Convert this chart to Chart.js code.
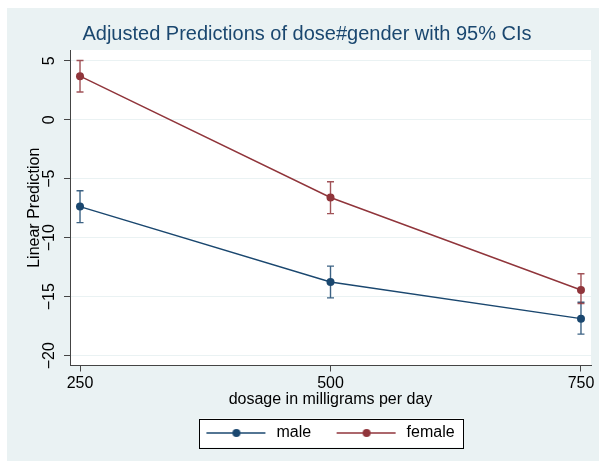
<!DOCTYPE html>
<html>
<head>
<meta charset="utf-8">
<script src="https://cdn.jsdelivr.net/npm/chart.js@4"></script>
<style>
  html, body { margin: 0; padding: 0; background: #fff; }
  #wrap { position: absolute; left: 7px; top: 8px; width: 592px; height: 453px; background: #eaf2f3; }
</style>
</head>
<body>
<div id="wrap"><canvas id="chart" width="592" height="453"></canvas></div>
<script>
// dose levels and the predictions
const doses = [250, 500, 750];
const maleFit = [-7.36, -13.75, -16.86];
const maleLo = [-8.72, -15.1, -18.17];
const maleHi = [-6.02, -12.41, -15.47];
const femaleFit = [3.69, -6.59, -14.43];
const femaleLo = [2.35, -7.96, -15.58];
const femaleHi = [5.02, -5.26, -13.06];
const yTicks = [-20, -15, -10, -5, 0, 5];
const xTicks = [250, 500, 750];

const navy = '#1a476f';
const maroon = '#90353b';

Chart.defaults.font.family = '"Liberation Sans", Arial, Helvetica, sans-serif';
Chart.defaults.color = '#000';

function toPoints(ys) {
  return doses.map((d, i) => ({x: d, y: ys[i]}));
}

// little line+dot picture for the legend keys
function legendSymbol(color) {
  const c = document.createElement('canvas');
  c.width = 76; c.height = 12;
  const g = c.getContext('2d');
  g.strokeStyle = color;
  g.lineWidth = 1.4;
  g.beginPath(); g.moveTo(14, 6); g.lineTo(73, 6); g.stroke();
  g.fillStyle = color;
  g.beginPath(); g.arc(44, 6, 4, 0, Math.PI * 2); g.fill();
  return c;
}
const symbols = [legendSymbol(navy), legendSymbol(maroon)];

// white plot region + framed legend
const backdrop = {
  id: 'backdrop',
  afterLayout(chart) {
    chart.legend.left -= 7;
    chart.legend.right -= 7;
  },
  beforeDraw(chart) {
    const {ctx, chartArea: a} = chart;
    ctx.save();
    ctx.fillStyle = '#fff';
    ctx.fillRect(a.left, a.top, a.right - a.left, a.bottom - a.top);
    const boxes = chart.legend.legendHitBoxes;
    if (boxes && boxes.length) {
      const first = boxes[0], last = boxes[boxes.length - 1];
      const l = first.left + 14 - 7, r = last.left + last.width + 9;
      const t = first.top - 6.5, b = first.top + 16 + 6.5;
      ctx.fillRect(l, t, r - l, b - t);
      ctx.strokeStyle = '#000';
      ctx.lineWidth = 1;
      ctx.strokeRect(Math.round(l) + 0.5, Math.round(t) + 0.5, Math.round(r - l), Math.round(b - t));
    }
    ctx.restore();
  }
};

// 95% CI caps
const ciBars = {
  id: 'ciBars',
  beforeDatasetsDraw(chart) {
    const {ctx, scales: {x, y}} = chart;
    const sets = [
      [maleLo, maleHi, 'rgba(26,71,111,0.85)'],
      [femaleLo, femaleHi, 'rgba(144,53,59,0.85)']
    ];
    ctx.save();
    ctx.lineWidth = 1.4;
    sets.forEach(([lo, hi, color]) => {
      ctx.strokeStyle = color;
      doses.forEach((d, i) => {
        const px = x.getPixelForValue(d);
        const top = y.getPixelForValue(hi[i]);
        const bot = y.getPixelForValue(lo[i]);
        ctx.beginPath();
        ctx.moveTo(px, top); ctx.lineTo(px, bot);
        ctx.moveTo(px - 3.5, top); ctx.lineTo(px + 3.5, top);
        ctx.moveTo(px - 3.5, bot); ctx.lineTo(px + 3.5, bot);
        ctx.stroke();
      });
    });
    ctx.restore();
  }
};

new Chart(document.getElementById('chart'), {
  type: 'line',
  data: {
    datasets: [
      {
        label: 'male',
        data: toPoints(maleFit),
        borderColor: navy,
        backgroundColor: navy,
        borderWidth: 1.4,
        pointRadius: 4,
        pointBorderWidth: 0,
        tension: 0
      },
      {
        label: 'female',
        data: toPoints(femaleFit),
        borderColor: maroon,
        backgroundColor: maroon,
        borderWidth: 1.4,
        pointRadius: 4,
        pointBorderWidth: 0,
        tension: 0
      }
    ]
  },
  options: {
    responsive: false,
    animation: false,
    layout: { padding: { left: 16, right: 8, top: 0, bottom: 10 } },
    plugins: {
      title: {
        display: true,
        text: 'Adjusted Predictions of dose#gender with 95% CIs',
        color: navy,
        font: { size: 20, weight: 'normal' },
        padding: { top: 14.7, bottom: 3.3 }
      },
      legend: {
        position: 'bottom',
        fullSize: false,
        labels: {
          usePointStyle: true,
          pointStyleWidth: 76,
          padding: 11.5,
          font: { size: 16 },
          generateLabels: chart => Chart.defaults.plugins.legend.labels.generateLabels(chart)
            .map((item, i) => Object.assign(item, { pointStyle: symbols[i] }))
        }
      },
      tooltip: { enabled: false }
    },
    scales: {
      x: {
        type: 'linear',
        min: 240,
        max: 760,
        afterBuildTicks: s => { s.ticks = xTicks.map(v => ({value: v})); },
        afterFit: s => { s.height = 48; },
        grid: { drawOnChartArea: false, tickLength: 6, tickColor: '#444' },
        border: { color: '#444', width: 1 },
        ticks: { padding: 2, font: { size: 16 } },
        title: {
          display: true,
          text: 'dosage in milligrams per day',
          font: { size: 16 },
          padding: { top: 0, bottom: 4.7 }
        }
      },
      y: {
        min: -20.83,
        max: 5.91,
        afterBuildTicks: s => { s.ticks = yTicks.map(v => ({value: v})); },
        afterFit: s => { s.width = 47; },
        grid: { color: '#eaf2f3', lineWidth: 1, tickLength: 6, tickColor: '#444' },
        border: { color: '#444', width: 1 },
        ticks: {
          minRotation: 90,
          maxRotation: 90,
          crossAlign: 'center',
          padding: 0.5,
          font: { size: 16 },
          callback: v => v < 0 ? '\u2212' + Math.abs(v) : String(v)
        },
        title: {
          display: true,
          text: 'Linear Prediction',
          font: { size: 16 },
          padding: { top: 2, bottom: 0 }
        }
      }
    }
  },
  plugins: [backdrop, ciBars]
});
</script>
</body>
</html>
